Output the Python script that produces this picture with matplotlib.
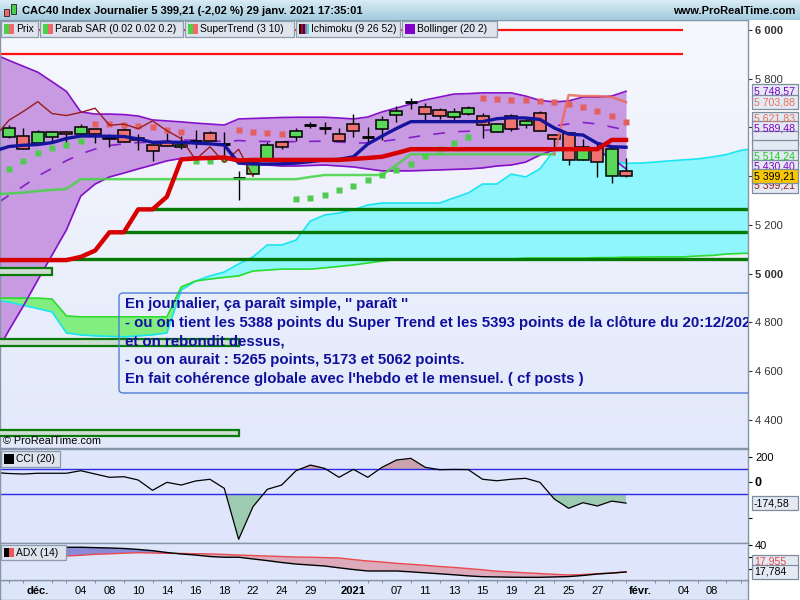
import numpy as np
import matplotlib.pyplot as plt
from matplotlib.patches import Rectangle, FancyBboxPatch
from matplotlib.colors import LinearSegmentedColormap

plt.rcParams['font.family'] = ['Liberation Sans', 'DejaVu Sans']

W, H = 800, 600

# ---- daily candles, bar 0 = 27 nov. 2020 ... bar 43 = 29 janv. 2021
opens = [5560, 5564, 5538, 5560, 5582, 5572, 5593, 5552, 5589, 5556, 5527, 5542, 5519, 5546,
         5576, 5532, 5393, 5408, 5470, 5539, 5560, 5611, 5599, 5573, 5614, 5562, 5595, 5650,
         5706, 5683, 5671, 5644, 5657, 5647, 5582, 5646, 5612, 5660, 5569, 5576, 5468, 5515,
         5402, 5421]
highs = [5610, 5599, 5590, 5587, 5584, 5614, 5595, 5572, 5599, 5572, 5530, 5579, 5565, 5590,
         5586, 5583, 5421, 5474, 5542, 5546, 5599, 5623, 5623, 5597, 5655, 5601, 5647, 5688,
         5720, 5699, 5679, 5679, 5688, 5658, 5620, 5655, 5640, 5666, 5572, 5583, 5553, 5542,
         5521, 5474]
lows = [5556, 5513, 5528, 5546, 5542, 5570, 5535, 5519, 5542, 5508, 5464, 5522, 5510, 5515,
        5544, 5480, 5302, 5405, 5469, 5512, 5546, 5598, 5575, 5546, 5562, 5535, 5549, 5624,
        5675, 5627, 5634, 5631, 5651, 5558, 5580, 5587, 5599, 5587, 5515, 5446, 5465, 5396,
        5373, 5395]
closes = [5597, 5513, 5582, 5582, 5572, 5603, 5572, 5558, 5542, 5547, 5505, 5525, 5528, 5546,
          5546, 5530, 5391, 5454, 5528, 5519, 5584, 5611, 5599, 5546, 5587, 5562, 5630, 5666,
          5706, 5657, 5649, 5662, 5679, 5609, 5614, 5595, 5627, 5587, 5554, 5468, 5521, 5457,
          5510.5, 5399.21]

# ---- indicators from bar -1 to bar 43
bb_upper = [5900, 5875, 5851, 5827, 5788, 5748, 5664, 5655, 5655, 5653, 5647, 5631, 5627, 5623,
            5618, 5614, 5610, 5635, 5637, 5639, 5641, 5642, 5642, 5642, 5639, 5635, 5643, 5664,
            5680, 5696, 5713, 5725, 5737, 5739, 5742, 5742, 5742, 5729, 5711, 5705, 5709, 5725,
            5725, 5729, 5748.57]
bb_lower = [4663, 4769, 4868, 4974, 5077, 5180, 5319, 5368, 5397, 5413, 5430, 5446, 5463, 5473,
            5479, 5479, 5473, 5458, 5450, 5446, 5442, 5442, 5444, 5446, 5442, 5438, 5430, 5422,
            5422, 5422, 5424, 5426, 5428, 5430, 5434, 5442, 5446, 5458, 5487, 5508, 5520, 5516,
            5504, 5475, 5430.40]
tenkan = [5504, 5522, 5527, 5530, 5538, 5555, 5565, 5565, 5564, 5563, 5553, 5539, 5540, 5539,
          5536, 5533, 5528, 5454, 5450, 5450, 5451, 5454, 5460, 5467, 5469, 5480, 5532, 5565,
          5596, 5624, 5624, 5624, 5624, 5624, 5624, 5636, 5640, 5639, 5633, 5598, 5573, 5569,
          5535, 5521, 5519]
kijun = [5056, 5056, 5056, 5056, 5056, 5056, 5069, 5095, 5170, 5170, 5264, 5264, 5316, 5469,
         5473, 5475, 5477, 5465, 5467, 5467, 5467, 5467, 5467, 5467, 5467, 5471, 5475, 5480,
         5495, 5511, 5511, 5511, 5511, 5511, 5511, 5511, 5511, 5511, 5511, 5511, 5511, 5511,
         5511, 5549, 5549]
supertrend = [5327, 5329, 5333, 5339, 5344, 5348, 5388, 5388, 5388, 5388, 5388, 5388, 5388, 5388,
              5388, 5388, 5388, 5388, 5388, 5388, 5388, 5388, 5397, 5405, 5405, 5405, 5405, 5405,
              5446, 5490, 5490, 5490, 5490, 5490, 5490, 5490, 5490, 5490, 5490, 5490, 5733, 5729,
              5729, 5725, 5703.88]
st_flip = 39  # first bar where SuperTrend turns bearish

# parabolic SAR, bar 0 to 43 (G = below price, S = above price)
sar = [5428, 5461, 5494, 5515, 5527, 5543, 5613, 5613, 5609, 5605, 5601, 5590, 5580, 5464,
       5464, 5469, 5590, 5580, 5576, 5572, 5305, 5309, 5322, 5342, 5360, 5383, 5404, 5424,
       5449, 5482, 5511, 5535, 5560, 5720, 5716, 5712, 5712, 5707, 5703, 5695, 5683, 5666,
       5646, 5621.83]
sar_side = 'GGGGGG' + 'SSSSSSS' + 'GGG' + 'SSSS' + 'GGGGGGGGGGGGG' + 'SSSSSSSSSSS'

# Ichimoku cloud, bar -1 to bar 52 (shifted forward)
senkou_a = [4892, 4884, 4870, 4857, 4843, 4757, 4749, 4745, 4743, 4741, 4745, 4749, 4757, 4933,
            4970, 4991, 5007, 5040, 5069, 5118, 5118, 5138, 5216, 5241, 5249, 5262, 5282, 5290,
            5290, 5290, 5290, 5290, 5311, 5331, 5368, 5368, 5409, 5397, 5430, 5508, 5516, 5516,
            5516, 5461, 5453, 5454, 5458, 5463, 5467, 5471, 5479, 5489, 5506, 5514.24]
senkou_b = [4900, 4900, 4900, 4900, 4896, 4827, 4823, 4823, 4823, 4823, 4823, 4823, 4823, 4946,
            4970, 4978, 4985, 4991, 5011, 5015, 5019, 5019, 5019, 5024, 5030, 5036, 5044, 5052,
            5058, 5060, 5060, 5060, 5060, 5060, 5060, 5060, 5060, 5064, 5064, 5064, 5064, 5064,
            5066, 5066, 5068, 5068, 5069, 5069, 5069, 5073, 5075, 5081, 5083, 5085]

# CCI (20), bar -1 to 43
cci = [75, 67, 63, 69, 69, 69, 90, 63, 36, 41, 14, -70, -5, -27, 6, 20, -54, -470, -204, -62,
       -27, 90, 136, 109, 36, 101, 36, 118, 177, 191, 118, 98, 100, 99, 20, 8, 20, 28, -5, -141,
       -217, -171, -198, -158, -174.58]

# ADX (14), bar 0 to 43
adx_black = [36.7, 37.5, 37.9, 38.1, 38.1, 38.1, 37.8, 37.5, 37.1, 36.3, 35.3, 33.8, 32.6, 31.7,
             30.5, 29.9, 29.9, 28.5, 27.1, 25.6, 24.3, 23.5, 22.7, 21.2, 19.8, 18.6, 18.6, 18.6,
             17.9, 17.1, 16.3, 15.5, 14.6, 13.9, 13.7, 13.5, 13.4, 13.4, 13.7, 14.0, 14.9, 16.1,
             16.9, 17.784]
adx_red = [27.6, 29.3, 30.1, 30.5, 30.9, 31.5, 32.3, 32.7, 33.2, 33.6, 33.4, 33.1, 33.0, 32.8,
           32.6, 32.2, 31.7, 31.3, 30.9, 30.5, 30.1, 29.9, 29.6, 29.3, 28.0, 26.8, 26.0, 24.9,
           24.1, 23.3, 22.3, 21.5, 20.6, 19.6, 18.4, 17.8, 17.1, 16.5, 15.9, 15.3, 15.7, 16.4,
           16.9, 17.955]

# user drawn levels
support_levels = [5265, 5173, 5062]
support_start = [10, 8, 4]
resist_levels = [6000, 5900]
zones = [(4994, 5023, 3), (4703, 4732, 16), (4334, 4359, 16)]

xtick_idx = [2, 5, 7, 9, 11, 13, 15, 17, 19, 21, 24, 27, 29, 31, 33, 35, 37, 39, 41, 44, 47, 49]
xtick_lbl = ['déc.', '04', '08', '10', '14', '16', '18', '22', '24', '29', '2021', '07', '11',
             '13', '15', '19', '21', '25', '27', 'févr.', '04', '08']
bold_lbl = ['déc.', '2021', 'févr.']

note_lines = [
    "En journalier, ça paraît simple, '' paraît ''",
    "- ou on tient les 5388 points du Super Trend et les 5393 points de la clôture du 20:12/2020",
    "et on rebondit dessus,",
    "- ou on aurait : 5265 points, 5173 et 5062 points.",
    "En fait cohérence globale avec l'hebdo et le mensuel. ( cf posts )",
]


def fx(x):
    return x / W


def fy(y):
    return 1 - y / H


def fmt_fr(v, dec=2):
    s = f'{v:,.{dec}f}'
    return s.replace(',', ' ').replace('.', ',')


def pbox(value, y_px, color, face='#e4eaf4', z=8):
    fig.add_artist(Rectangle((fx(752), fy(y_px + 7)), fx(46), 14 / H, transform=fig.transFigure,
                             fc=face, ec='#7d8d9d', lw=0.9, zorder=z))
    if value:
        fig.text(fx(754), fy(y_px), value, color=color, fontsize=7.6, va='center', ha='left',
                 zorder=z + 0.1)


fig = plt.figure(figsize=(8, 6), dpi=100)
fig.patch.set_facecolor('white')

xl = (-0.63, 51.5)
bars = np.arange(len(closes))
ind_x = np.arange(-1, len(closes))
cloud_x = np.arange(-1, len(senkou_a) - 1)

# ---------------- main price panel
ax = fig.add_axes([0, fy(448), fx(748), 428 / H])
ax.set_xlim(*xl)
ax.set_ylim(4285, 6041)
bg = LinearSegmentedColormap.from_list('bg', ['#e2e9fa', '#f7f8fe'])
ax.imshow(np.linspace(0, 1, 200).reshape(-1, 1), extent=(xl[0], xl[1], 4285, 6041),
          origin='lower', aspect='auto', cmap=bg, zorder=0)

up = np.array(bb_upper)
lo = np.array(bb_lower)
ax.fill_between(ind_x, lo, up, color='#c89ae2', lw=0, zorder=1)

sa = np.array(senkou_a)
sb = np.array(senkou_b)
ax.fill_between(cloud_x, sa, sb, where=sa >= sb, interpolate=True, color='#8ef6fc', lw=0, zorder=1.5)
ax.fill_between(cloud_x, sa, sb, where=sa < sb, interpolate=True, color='#82ee82', lw=0, zorder=1.5)
ax.plot(cloud_x, sa, color='#16e6f2', lw=1.2, zorder=1.6)
ax.plot(cloud_x, sb, color='#2cdc2c', lw=1.2, zorder=1.6)

ax.plot(ind_x, up, color='#8410c8', lw=1.2, zorder=2)
ax.plot(ind_x, lo, color='#8410c8', lw=1.2, zorder=2)
ax.plot(ind_x, (up + lo) / 2, color='#8420c8', lw=1.2, ls=(0, (7, 8)), zorder=2)

for lvl, st in zip(support_levels, support_start):
    ax.hlines(lvl, st, xl[1], color='#047a04', lw=2.4, zorder=2.5)
for lvl in resist_levels:
    ax.hlines(lvl, xl[0], 47, color='#ff1010', lw=1.6, zorder=2.5)
for lo_z, hi_z, end in zones:
    ax.add_patch(Rectangle((xl[0] - 1, lo_z), end - xl[0] + 1, hi_z - lo_z, fc='#cfdcd2',
                           ec='#0a7a0a', lw=1.6, zorder=2.6))

# candles
for i, (o, h, l, c) in enumerate(zip(opens, highs, lows, closes)):
    ax.vlines(i, l, h, color='black', lw=1, zorder=3)
    if abs(c - o) < 4:
        ax.hlines((o + c) / 2, i - 0.42, i + 0.42, color='black', lw=2, zorder=3.2)
    else:
        ax.add_patch(Rectangle((i - 0.42, min(o, c)), 0.84, abs(c - o),
                               fc='#5ad85a' if c > o else '#ee7272', ec='black', lw=1.1,
                               zorder=3.1))

sar_a = np.array(sar)
side = np.array(list(sar_side))
ax.plot(bars[side == 'G'], sar_a[side == 'G'], 's', ms=4.4, color='#4fcc4f', mec='none', zorder=5)
ax.plot(bars[side == 'S'], sar_a[side == 'S'], 's', ms=4.4, color='#e26060', mec='none', zorder=5)

k = st_flip + 1
ax.plot(ind_x[:k], supertrend[:k], color='#44d444', lw=1.8, alpha=0.85, zorder=5.5)
ax.plot(ind_x[k - 1:], supertrend[k - 1:], color='#ec6a5a', lw=1.8, alpha=0.85, zorder=5.5)

ax.plot(np.arange(-1, 18), closes[25:], color='#9a1c1c', lw=1, zorder=5.6)
ax.plot(ind_x, tenkan, color='#14149c', lw=2.4, zorder=6)
ax.plot(ind_x, kijun, color='#d60000', lw=3.2, zorder=6.1)

ax.text(fx(3), fy(441), '© ProRealTime.com', transform=fig.transFigure, fontsize=7.8,
        va='center', ha='left', zorder=9)

ax.add_patch(FancyBboxPatch((fx(119), fy(393)), fx(700), 100 / H,
                            boxstyle='round,pad=0,rounding_size=0.006',
                            transform=fig.transFigure, fc='none', ec='#4f7ed6', lw=1, zorder=7))
for n, line in enumerate(note_lines):
    ax.text(fx(125), fy(304 + n * 18.7), line, transform=fig.transFigure, fontsize=10.8,
            fontweight='bold', color='#10109e', va='center', ha='left', clip_on=True, zorder=7.5)

ax.yaxis.tick_right()
pticks = [4400, 4600, 4800, 5000, 5200, 5400, 5600, 5800, 6000]
ax.set_yticks(pticks)
ax.set_yticklabels([fmt_fr(v, 0) for v in pticks], fontsize=8)
for t, v in zip(ax.get_yticklabels(), pticks):
    if v in (5000, 6000):
        t.set_fontweight('bold')
ax.tick_params(axis='y', length=3, pad=2, colors='#333')
ax.set_xticks([])

# ---------------- CCI panel
ax_c = fig.add_axes([0, fy(543), fx(748), 94 / H])
ax_c.set_facecolor('#dfe6fc')
ax_c.set_xlim(*xl)
ax_c.set_ylim(-500, 267)
cc = np.array(cci, dtype=float)
ax_c.fill_between(ind_x, cc, 100, where=cc > 100, interpolate=True, color='#caa3af', lw=0)
ax_c.fill_between(ind_x, cc, -100, where=cc < -100, interpolate=True, color='#9ccbb2', lw=0)
ax_c.axhline(100, color='#2a2ae6', lw=1)
ax_c.axhline(-100, color='#2a2ae6', lw=1)
ax_c.plot(ind_x, cc, color='black', lw=0.9)
ax_c.yaxis.tick_right()
ax_c.set_yticks([200, 0, -300])
ax_c.set_yticklabels(['200', '0', ''], fontsize=8)
ax_c.get_yticklabels()[1].set_fontweight('bold')
ax_c.get_yticklabels()[1].set_fontsize(9)
ax_c.tick_params(axis='y', length=3, pad=2)
ax_c.set_xticks([])

# ---------------- ADX panel
ax_a = fig.add_axes([0, fy(580), fx(748), 37 / H])
ax_a.set_facecolor('#dfe6fc')
ax_a.set_xlim(*xl)
ax_a.set_ylim(11.2, 41.6)
ab = np.array(adx_black)
ar = np.array(adx_red)
ax_a.fill_between(bars, ab, ar, where=ab >= ar, interpolate=True, color='#8a8ad8', lw=0)
ax_a.fill_between(bars, ab, ar, where=ab < ar, interpolate=True, color='#dcaabb', lw=0)
ax_a.plot(bars, ar, color='#ea4a4a', lw=1)
ax_a.plot(bars, ab, color='black', lw=1)
ax_a.yaxis.tick_right()
ax_a.set_yticks([40, 30, 20])
ax_a.set_yticklabels(['40', '', ''], fontsize=8)
ax_a.tick_params(axis='y', length=3, pad=2)
ax_a.set_xticks(xtick_idx)
ax_a.set_xticklabels(xtick_lbl, fontsize=8)
for t in ax_a.get_xticklabels():
    if t.get_text() in bold_lbl:
        t.set_fontweight('bold')
ax_a.set_xticks(np.arange(0, 52), minor=True)
ax_a.tick_params(axis='x', which='major', length=0, pad=4)
ax_a.tick_params(axis='x', which='minor', length=2, color='#777')

for a in (ax, ax_c, ax_a):
    for s in a.spines.values():
        s.set_color('#8595a5')
        s.set_linewidth(1)

# bottom strip behind the date labels
fig.add_artist(Rectangle((0, 0), fx(748), 20 / H, transform=fig.transFigure, fc='#dde5f8',
                         ec='#8595a5', lw=1, zorder=-1))

# ---------------- title bar
tax = fig.add_axes([0, fy(20), 1, 20 / H])
tax.imshow(np.linspace(0, 1, 50).reshape(-1, 1), aspect='auto', extent=(0, 1, 0, 1),
           cmap=LinearSegmentedColormap.from_list('tb', ['#d8ecf5', '#a4cbdd']))
tax.set_axis_off()
tax.add_patch(Rectangle((fx(4), 0.2), fx(5), 0.35, fc='#ee6a6a', ec='#222', lw=0.6))
tax.add_patch(Rectangle((fx(11), 0.3), fx(5), 0.5, fc='#4ad04a', ec='#222', lw=0.6))
fig.text(fx(22), fy(11), 'CAC40 Index Journalier 5 399,21 (-2,02 %) 29 janv. 2021 17:35:01',
         fontsize=8, fontweight='bold', va='center', ha='left', zorder=10)
fig.text(fx(795), fy(11), 'www.ProRealTime.com', fontsize=8, fontweight='bold', va='center',
         ha='right', zorder=10)


def legend_box(x0, x1, y0, y1, label, icons):
    fig.add_artist(Rectangle((fx(x0), fy(y1)), fx(x1 - x0), (y1 - y0) / H,
                             transform=fig.transFigure, fc='#dde4ee', ec='#8c9cac', lw=0.9,
                             zorder=9))
    cx = x0 + 3
    for col in icons:
        w = 10 / len(icons)
        fig.add_artist(Rectangle((fx(cx), fy(y1 - 3)), fx(w), (y1 - y0 - 6) / H,
                                 transform=fig.transFigure, fc=col, lw=0, zorder=9.2))
        cx += w
    fig.text(fx(x0 + 15), fy((y0 + y1) / 2), label, fontsize=7.4, va='center', ha='left',
             zorder=9.3)


legend_box(1, 38, 21, 37, 'Prix', ['#4ad04a', '#ee6a6a'])
legend_box(40, 183, 21, 37, 'Parab SAR (0.02 0.02 0.2)', ['#4ad04a', '#ee6a6a'])
legend_box(185, 294, 21, 37, 'SuperTrend (3 10)', ['#4ad04a', '#ee6a6a'])
legend_box(296, 400, 21, 37, 'Ichimoku (9 26 52)', ['#111', '#c00', '#10109a', '#e06060', '#20e8f0'])
legend_box(402, 497, 21, 37, 'Bollinger (20 2)', ['#8000c8'])
legend_box(1, 60, 451, 467, 'CCI (20)', ['#000'])
legend_box(1, 66, 545, 560, 'ADX (14)', ['#000', '#ee5555'])

# ---------------- value boxes on the right scale
fig.canvas.draw()


def to_px(a, v):
    return H - a.transData.transform((0, v))[1]


# (value, colour, text shown) - the Ichimoku lines' boxes are hidden under the others
labels = [
    (bb_upper[-1], '#8000c8', True),
    (supertrend[-1], '#e8705c', True),
    (sar[-1], '#e8705c', True),
    ((bb_upper[-1] + bb_lower[-1]) / 2, '#8000c8', True),
    (kijun[-1], '#d00000', False),
    (tenkan[-1], '#14149c', False),
    (senkou_a[-1], '#22cc22', True),
    (bb_lower[-1], '#8000c8', True),
]
labels.sort(key=lambda t: -t[0])
ys = [to_px(ax, v) for v, _, _ in labels]
y_close = to_px(ax, closes[-1])
gap = 9.5
# spread the boxes apart; the closing price box stays where it is
for _ in range(200):
    for j in range(len(ys) - 1):
        d = ys[j + 1] - ys[j]
        if d < gap:
            ys[j] -= (gap - d) / 2
            ys[j + 1] += (gap - d) / 2
    if y_close - ys[-1] < gap:
        ys[-1] = y_close - gap
for (v, col, shown), y in zip(labels, ys):
    pbox(fmt_fr(v) if shown else '', y, col)
pbox(fmt_fr(closes[-1]), y_close + gap, '#9a1c1c')
pbox(fmt_fr(closes[-1]), y_close, 'black', face='#f8c800', z=8.5)

pbox(fmt_fr(cci[-1]), to_px(ax_c, cci[-1]), 'black')
pbox(fmt_fr(adx_red[-1], 3), to_px(ax_a, adx_red[-1]) - 10, '#e84848')
pbox(fmt_fr(adx_black[-1], 3), to_px(ax_a, adx_black[-1]), 'black')

fig.savefig('out.png', dpi=100)
